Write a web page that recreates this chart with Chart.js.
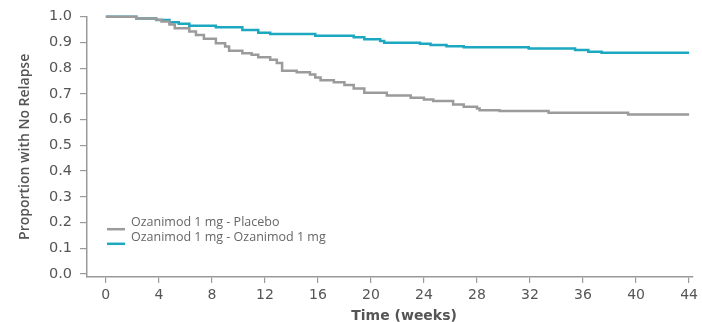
<!DOCTYPE html>
<html>
<head>
<meta charset="utf-8">
<script src="https://cdn.jsdelivr.net/npm/chart.js@4.4.1/dist/chart.umd.min.js"></script>
<style>
  html, body { margin: 0; padding: 0; background: #fff; }
  #wrap { width: 702px; height: 322px; position: relative; }
</style>
</head>
<body>
<div id="wrap"><canvas id="kmChart"></canvas></div>
<script>
// Kaplan-Meier steps: week of each drop and the proportion after it
const placeboWeeks = [0, 2.3, 3.8, 4.2, 4.8, 5.2, 6.3, 6.8, 7.4, 8.3, 9.0, 9.3, 10.3, 11.0, 11.5, 12.4, 12.9, 13.3,
    14.4, 15.4, 15.8, 16.2, 17.2, 18.0, 18.7, 19.5, 21.2, 23.0, 24.0, 24.7, 26.2, 27.0, 28.0, 28.2, 29.7, 33.4, 39.4, 44];
const placeboSurv = [1.0, 0.993, 0.988, 0.981, 0.970, 0.955, 0.942, 0.929, 0.914, 0.897, 0.884, 0.868, 0.858, 0.852, 0.842, 0.833, 0.820, 0.790,
    0.784, 0.775, 0.764, 0.753, 0.745, 0.734, 0.721, 0.704, 0.694, 0.685, 0.678, 0.672, 0.659, 0.650, 0.643, 0.636, 0.633, 0.627, 0.620, 0.620];

const ozanimodWeeks = [0, 2.3, 3.8, 4.8, 5.5, 6.3, 8.3, 10.3, 11.5, 12.4, 15.8, 18.7, 19.5, 20.7, 21.0, 23.7,
    24.5, 25.7, 27.0, 31.9, 35.4, 36.4, 37.4, 44];
const ozanimodSurv = [1.0, 0.993, 0.987, 0.978, 0.973, 0.965, 0.959, 0.948, 0.938, 0.933, 0.926, 0.920, 0.912, 0.906, 0.899, 0.895,
    0.890, 0.885, 0.881, 0.876, 0.871, 0.864, 0.860, 0.860];

const seriesLabels = ['Ozanimod 1 mg - Placebo', 'Ozanimod 1 mg - Ozanimod 1 mg'];
const xTicks = [0, 4, 8, 12, 16, 20, 24, 28, 32, 36, 40, 44];
const yTicks = [0, 0.1, 0.2, 0.3, 0.4, 0.5, 0.6, 0.7, 0.8, 0.9, 1.0];
const xTitle = 'Time (weeks)';

const toPoints = (xs, ys) => xs.map((x, i) => ({ x: x, y: ys[i] }));

const axisGrey = '#9a9a9a';
const textGrey = '#555';

// legend inside the plot (lower left) and the x title, a bit right of centre
const extras = {
    id: 'extras',
    afterDraw(chart) {
        const ctx = chart.ctx;
        const area = chart.chartArea;
        ctx.save();
        ctx.font = '12.5px "Open Sans"';
        ctx.textBaseline = 'middle';
        chart.data.datasets.forEach((ds, i) => {
            const y = area.top + 206 + i * 14.6;
            ctx.strokeStyle = ds.borderColor;
            ctx.lineWidth = 2.5;
            ctx.beginPath();
            ctx.moveTo(area.left + 20, y + 6.5);
            ctx.lineTo(area.left + 38, y + 6.5);
            ctx.stroke();
            ctx.fillStyle = '#666';
            ctx.fillText(ds.label, area.left + 44, y);
        });

        const xs = chart.scales.x;
        ctx.font = 'bold 14px "DejaVu Sans"';
        ctx.fillStyle = textGrey;
        ctx.textAlign = 'center';
        ctx.textBaseline = 'alphabetic';
        ctx.fillText(xTitle, xs.getPixelForValue(22.5), 320);
        ctx.restore();
    }
};

Chart.defaults.font.family = '"DejaVu Sans", sans-serif';
Chart.defaults.color = textGrey;

new Chart(document.getElementById('kmChart'), {
    type: 'line',
    data: {
        datasets: [{
            label: seriesLabels[0],
            data: toPoints(placeboWeeks, placeboSurv),
            borderColor: '#9b9b9b',
            borderWidth: 2.5,
            stepped: true,
            pointRadius: 0,
            fill: false,
            clip: false
        }, {
            label: seriesLabels[1],
            data: toPoints(ozanimodWeeks, ozanimodSurv),
            borderColor: '#1ba8c0',
            borderWidth: 2.5,
            stepped: true,
            pointRadius: 0,
            fill: false,
            clip: false
        }]
    },
    options: {
        responsive: true,
        maintainAspectRatio: false,
        animation: false,
        layout: { padding: { top: 15, right: 4, left: 0, bottom: 0 } },
        plugins: {
            legend: { display: false },
            tooltip: { enabled: false }
        },
        scales: {
            x: {
                type: 'linear',
                min: -1.42,
                max: 44.3,
                afterBuildTicks: (scale) => { scale.ticks = xTicks.map(v => ({ value: v })); },
                afterFit: (scale) => { scale.height = 45; },
                grid: { drawOnChartArea: false, drawTicks: true, tickLength: 6, color: axisGrey, lineWidth: 1.2 },
                border: { display: true, color: axisGrey, width: 1.5 },
                ticks: { font: { size: 14 }, color: textGrey, padding: 4, maxRotation: 0 }
            },
            y: {
                min: -0.012,
                max: 1.0,
                afterBuildTicks: (scale) => { scale.ticks = yTicks.map(v => ({ value: v })); },
                afterFit: (scale) => { scale.width = 87; },
                grid: { drawOnChartArea: false, drawTicks: true, tickLength: 7, color: axisGrey, lineWidth: 1.2 },
                border: { display: true, color: axisGrey, width: 1.5 },
                ticks: {
                    font: { size: 14.5 },
                    color: textGrey,
                    padding: 8,
                    callback: (v) => v.toFixed(1)
                },
                title: {
                    display: true,
                    text: 'Proportion with No Relapse',
                    font: { family: '"Open Sans"', size: 14, weight: '600' },
                    color: textGrey,
                    padding: { top: 17, bottom: 0 }
                }
            }
        }
    },
    plugins: [extras]
});
</script>
</body>
</html>
